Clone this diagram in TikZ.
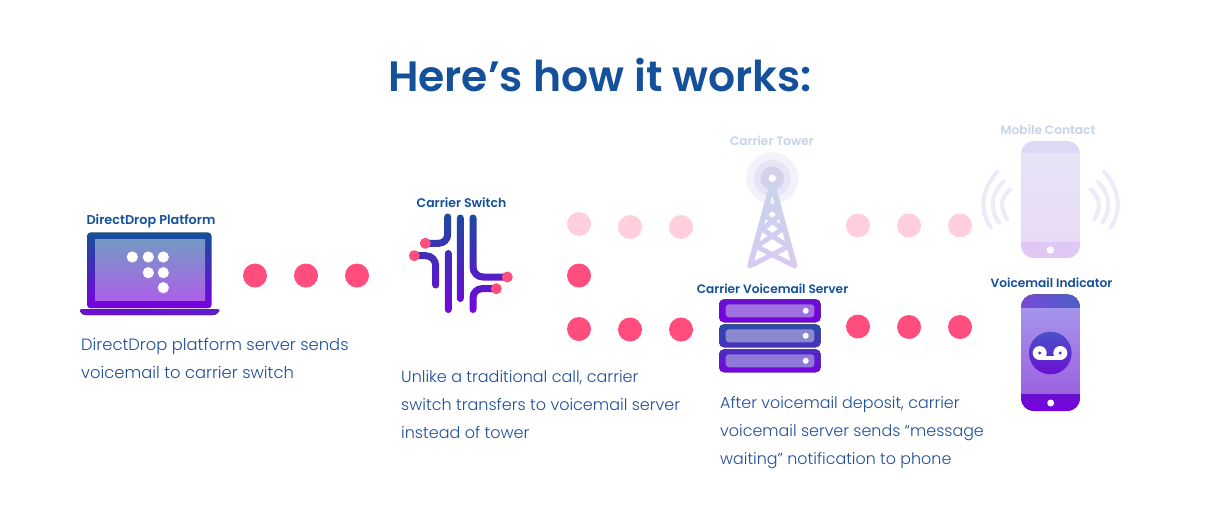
\documentclass[tikz,border=0pt]{standalone}
\usepackage{fontspec}
\usetikzlibrary{fadings}
\setmainfont{Poppins}
\newfontfamily\titlefont{Poppins SemiBold}
\newfontfamily\labelfont{Poppins SemiBold}
\newfontfamily\bodyfont{Poppins Light}
\definecolor{navy}{HTML}{15509A}
\definecolor{bodyblue}{HTML}{1F4E9A}
\definecolor{violet}{HTML}{7A00E0}
\definecolor{hotpink}{HTML}{FF4D7E}
\definecolor{palepink}{HTML}{FFCFDD}
\definecolor{fadedlabel}{HTML}{C5D4E8}
\definecolor{towertop}{HTML}{C5D6E8}
\definecolor{towerbot}{HTML}{DCC8F4}
\definecolor{screentop}{HTML}{7499C4}
\definecolor{screenbot}{HTML}{AD60E8}
\definecolor{baseleft}{HTML}{6A10D0}
\definecolor{baseright}{HTML}{5F1CC8}
\definecolor{haloa}{HTML}{F3F2FB}
\definecolor{halob}{HTML}{E6E4F5}
\definecolor{haloc}{HTML}{D5D0EC}
\definecolor{srvA}{HTML}{6A10D0}
\definecolor{srvAin}{HTML}{A06FE0}
\definecolor{srvB}{HTML}{2A4AA8}
\definecolor{srvBb}{HTML}{4A30C0}
\definecolor{srvBin}{HTML}{8A88D0}
\definecolor{srvCin}{HTML}{9078D8}
\definecolor{mobtop}{HTML}{DCD8F5}
\definecolor{mobmida}{HTML}{E6E4F7}
\definecolor{mobmidb}{HTML}{E8DAF6}
\definecolor{mobbot}{HTML}{DFC8F5}
\definecolor{wavecol}{HTML}{ECEBF8}
\definecolor{vmtopl}{HTML}{7A4AD8}
\definecolor{vmtopr}{HTML}{4A60C8}
\definecolor{vmmida}{HTML}{A594EC}
\definecolor{vmmidb}{HTML}{9C62E0}
\definecolor{vmbot}{HTML}{6A10D0}
\definecolor{vmdisc}{HTML}{4A50C8}
\tikzset{
  dotnode/.style={circle,fill=hotpink,minimum size=24pt,inner sep=0pt},
  palenode/.style={circle,fill=palepink,minimum size=24pt,inner sep=0pt},
  heading/.style={font=\titlefont\fontsize{42.5}{46}\selectfont,text=navy,inner sep=0pt,anchor=base},
  iconlabel/.style={font=\labelfont\fontsize{12.2}{14}\selectfont,text=navy,inner sep=0pt,anchor=base},
  fadedname/.style={iconlabel,text=fadedlabel},
  para/.style={text=bodyblue,inner sep=0pt,anchor=north west,align=left},
  swline/.style={draw=transparent!0,line width=7pt,line cap=round},
  wave/.style={draw=wavecol,line width=4pt,line cap=round},
}
\begin{tikzfadingfrompicture}[name=switchmask,x=1pt,y=-1pt]
  \path (400,205) rectangle (520,320);
  \draw[swline,rounded corners=9pt] (447.7,217) -- (447.7,243.3) -- (425.3,243.3);
  \draw[swline,rounded corners=10pt] (414.3,255.7) -- (435.7,255.7) -- (435.7,285);
  \draw[swline] (448.3,253.5) -- (448.3,309.5);
  \draw[swline] (460.3,218) -- (460.3,298.5);
  \draw[swline,rounded corners=10pt] (473,218) -- (473,277) -- (507,277);
  \draw[swline,rounded corners=9pt] (473,309.5) -- (473,288.7) -- (496,288.7);
\end{tikzfadingfrompicture}
\begin{tikzfadingfrompicture}[name=towermask,x=1pt,y=-1pt]
  \path (740,175) rectangle (805,275);
  \draw[draw=transparent!0,line width=5.6pt,line cap=round,line join=round] (750,265.7) -- (772.3,184) -- (794.6,265.7);
  \draw[draw=transparent!0,line width=5pt]
     (752,265) -- (789,246) (792.6,265) -- (755.6,246)
     (757,246) -- (784,228) (787.6,246) -- (760.6,228)
     (760,231) -- (781,214) (784.6,231) -- (763.6,214)
     (765,214) -- (777,204) (779.6,214) -- (767.6,204);
\end{tikzfadingfrompicture}
\begin{document}
\begin{tikzpicture}[x=1pt,y=-1pt]
\useasboundingbox (0,0) rectangle (1218,512);
\fill[white] (0,0) rectangle (1218,512);

\node[heading] (title) at (600,91) {Here’s how it works:};

% ---------- laptop
\node[iconlabel,font=\labelfont\fontsize{12.8}{14}\selectfont] (lblplatform) at (151,224) {DirectDrop Platform};
\fill[top color=navy,bottom color=violet,rounded corners=3pt] (87.3,308) -- (87.3,232.7) -- (211.3,232.7) -- (211.3,308) -- cycle;
\fill[top color=screentop,bottom color=screenbot] (95,239.3) rectangle (205,300.7);
\fill[left color=baseleft,right color=baseright,rounded corners=2.5pt] (80,309) -- (219,309) -- (219,312) -- (215.5,315) -- (83.5,315) -- (80,312) -- cycle;
\foreach \px/\py in {132.3/257,148.3/257,163.3/257,148.3/272.7,163.3/272.7,163.3/287.7}
  \fill[white] (\px,\py) circle (5.6);

\node[dotnode] (d1) at (255,275.5) {};
\node[dotnode] (d2) at (306,275.5) {};
\node[dotnode] (d3) at (357,275.5) {};
\node[para,font=\bodyfont\fontsize{16.35}{28}\selectfont] (p1) at (81,338) {DirectDrop platform server sends\\voicemail to carrier switch};

% ---------- switch
\node[iconlabel,font=\labelfont\fontsize{12.5}{14}\selectfont] (lblswitch) at (461.5,207) {Carrier Switch};
\shade[top color=navy,bottom color=violet,path fading=switchmask,fit fading=false,fading transform={shift={(460,262.5)}}] (400,205) rectangle (520,320);
\fill[hotpink] (425.3,243.3) circle (5.5) (414.3,255.7) circle (5.5) (507.3,277) circle (5.5) (496.3,288.7) circle (5.5);
\node[para,font=\bodyfont\fontsize{16}{28}\selectfont] (p2) at (401,370) {Unlike a traditional call, carrier\\switch transfers to voicemail server\\instead of tower};

% ---------- middle dots
\node[palenode] (m1) at (579,224) {};
\node[palenode] (m2) at (630,227) {};
\node[palenode] (m3) at (681,227) {};
\node[dotnode] (m4) at (579,275.5) {};
\node[dotnode] (m5) at (579,329) {};
\node[dotnode] (m6) at (630,329.5) {};
\node[dotnode] (m7) at (681,329.5) {};

% ---------- tower
\node[fadedname] (lbltower) at (772,145) {Carrier Tower};
\fill[haloa] (772.3,178.3) circle (26);
\fill[halob] (772.3,178.3) circle (18.3);
\fill[haloc] (772.3,178.3) circle (11.7);
\shade[top color=towertop,bottom color=towerbot,path fading=towermask,fit fading=false,fading transform={shift={(772.5,225)}}] (740,175) rectangle (805,275);
\fill[white] (772.3,178.3) circle (3.7);

\node[palenode] (t1) at (858,225.5) {};
\node[palenode] (t2) at (909,225.5) {};
\node[palenode] (t3) at (960,225.5) {};

% ---------- server
\node[iconlabel] (lblserver) at (772.5,293) {Carrier Voicemail Server};
\foreach \ty/\ca/\cb/\cc in {299.3/srvA/violet/srvAin,324.3/srvB/srvBb/srvBin,349.3/srvBb/violet/srvCin}{
  \fill[top color=\ca,bottom color=\cb,rounded corners=5pt] (719,\ty) rectangle (820.7,\ty+23);
  \fill[\cc,rounded corners=3pt] (725.7,\ty+5) rectangle (814.3,\ty+18);
  \fill[white] (805.7,\ty+11.5) circle (3);
}
\node[dotnode] (s1) at (858,326.5) {};
\node[dotnode] (s2) at (909,327) {};
\node[dotnode] (s3) at (960,327) {};
\node[para,font=\bodyfont\fontsize{15.9}{28}\selectfont] (p3) at (720,396) {After voicemail deposit, carrier\\voicemail server sends “message\\waiting” notification to phone};

% ---------- mobile contact
\node[fadedname] (lblmobile) at (1048,134) {Mobile Contact};
\begin{scope}
  \clip[rounded corners=13pt] (1021,141) rectangle (1080,258.3);
  \fill[mobtop] (1021,141) rectangle (1080,153.3);
  \fill[top color=mobmida,bottom color=mobmidb] (1021,153.3) rectangle (1080,241.7);
  \fill[mobbot] (1021,241.7) rectangle (1080,258.3);
\end{scope}
\fill[white] (1050.3,250) circle (3.7);
\draw[wave] (997.3,171.7) .. controls (980,192) and (980,212) .. (990.7,227.3);
\draw[wave] (1003.3,181.7) .. controls (990,195) and (990,210) .. (999,222.7);
\draw[wave] (1010,189.3) .. controls (1000,199) and (1000,209) .. (1007.3,219);
\draw[wave] (1104.3,171.7) .. controls (1121,192) and (1121,212) .. (1110.7,227.3);
\draw[wave] (1097.7,181.7) .. controls (1111,195) and (1111,210) .. (1102.3,222.7);
\draw[wave] (1091,189.3) .. controls (1101,199) and (1101,209) .. (1094.3,219);

% ---------- voicemail phone
\node[iconlabel] (lblindicator) at (1051.5,287) {Voicemail Indicator};
\begin{scope}
  \clip[rounded corners=13pt] (1021,294.3) rectangle (1080,411);
  \fill[left color=vmtopl,right color=vmtopr] (1021,294.3) rectangle (1080,308);
  \fill[top color=vmmida,bottom color=vmmidb] (1021,308) rectangle (1080,394.7);
  \fill[top color=vmbot,bottom color=violet] (1021,394.7) rectangle (1080,411);
\end{scope}
\fill[white] (1050.7,403) circle (3.5);
\shade[top color=vmdisc,bottom color=vmbot] (1050.3,353) circle (21.3);
\fill[white] (1039.7,353) circle (7);
\fill[white] (1060.3,353) circle (7);
\fill[white] (1039.7,356) rectangle (1060.3,360);
\fill[srvBb] (1039.7,353) circle (1.6);
\fill[srvBb] (1060.3,353) circle (1.6);
\end{tikzpicture}
\end{document}
